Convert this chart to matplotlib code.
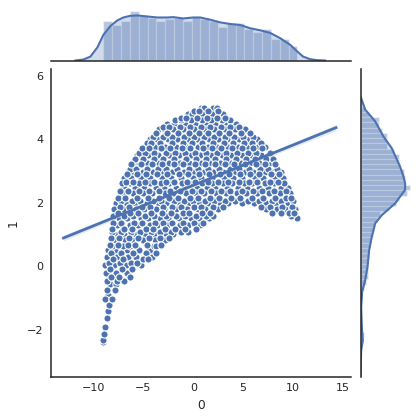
import matplotlib
matplotlib.use("Agg")
import matplotlib.pyplot as plt

BLUE = "#4c72b0"
DARK = "#262626"

# scatter values, one y level and the x values found at that level
row_y = [-2.40, -2.32, -2.15, -1.93, -1.65, -1.42, -1.23, -1.04, -0.90, -0.76, -0.57, -0.47, -0.34,
         -0.22, -0.09, 0.03, 0.11, 0.23, 0.28, 0.42, 0.51, 0.63, 0.68, 0.83, 0.88, 1.02, 1.08,
         1.17, 1.31, 1.36, 1.52, 1.58, 1.67, 1.81, 1.86, 1.99, 2.07, 2.16, 2.31, 2.37, 2.48, 2.62,
         2.66, 2.79, 2.91, 2.96, 3.08, 3.21, 3.27, 3.38, 3.51, 3.57, 3.72, 3.77, 3.89, 4.02, 4.07,
         4.19, 4.33, 4.38, 4.49, 4.61, 4.68, 4.79, 4.88, 5.0]
row_x = [
    [-9.05], [-9.02], [-8.98], [-8.8], [-8.6], [-8.5], [-8.4], [-8.8, -8.1], [-8.5], [-8.6, -7.8],
    [-8.35, -7.7], [-8.6, -7.6, -6.9], [-8.2, -7.4, -6.3],
    [-8.7, -7.7, -6.6], [-8.3, -7.1, -6.1], [-8.8, -7.9, -6.7, -5.2], [-8.4, -7.3, -6.2, -5.6],
    [-8.0, -7.0, -5.0, -4.5], [-8.6, -7.6, -6.5, -5.7, -4.1], [-8.2, -7.2, -6.0, -4.7, -3.7],
    [-8.55, -7.8, -6.6, -5.4, -4.3], [-8.1, -7.0, -6.3, -3.9, -3.7], [-8.3, -7.5, -6.5, -5.8, -4.6, -3.2],
    [-7.9, -6.8, -6.1, -5.0, -3.8, -2.8], [-8.25, -7.4, -6.4, -5.5, -4.4, -3.3, -2.4],
    [-7.8, -6.9, -5.8, -4.8, -3.9, -2.7, -2.0], [-8.15, -7.2, -6.2, -5.3, -4.2, -3.3, -2.2, -1.2, -0.5],
    [-8.1, -6.9, -6.1, -4.7, -4.0, -2.8, -1.8, -0.8, 0.3],
    [-7.6, -6.3, -5.5, -4.3, -3.6, -2.6, -1.3, -0.5, 0.7],
    [-8.0, -7.2, -5.9, -5.1, -3.8, -3.0, -2.1, -1.0, 0.1, 1.0],
    [-7.4, -6.6, -5.2, -4.5, -3.3, -2.5, -1.4, -0.2, 0.6, 1.6, 10.35],
    [-8.0, -6.9, -6.0, -4.8, -3.9, -2.7, -1.7, -0.8, 0.3, 1.3, 2.0, 9.8],
    [-7.5, -6.3, -5.5, -4.2, -3.1, -2.2, -1.0, -0.4, 0.9, 1.7, 7.9, 8.8, 9.6, 10.1],
    [-7.9, -7.0, -5.7, -4.9, -3.7, -2.9, -1.7, -0.6, 0.5, 1.2, 2.5, 7.3, 8.4, 9.2, 10.2],
    [-7.3, -6.4, -5.1, -4.3, -3.0, -2.1, -1.2, 0.1, 0.8, 2.0, 3.0, 6.8, 7.7, 8.9, 9.9],
    [-7.7, -6.7, -5.8, -4.6, -3.5, -2.7, -1.4, -0.4, 0.6, 1.5, 2.7, 3.5, 4.9, 6.1, 7.3, 8.3, 9.5],
    [-7.2, -6.1, -5.3, -4.0, -3.2, -1.9, -0.9, 0.0, 1.2, 2.1, 3.2, 4.2, 5.5, 6.6, 7.9, 8.8, 10.0],
    [-7.5, -6.8, -5.6, -4.5, -3.4, -2.4, -1.5, -0.3, 0.5, 1.7, 2.6, 3.8, 4.7, 5.9, 7.0, 8.2, 9.3, 9.8],
    [-6.9, -6.0, -5.0, -4.1, -2.8, -2.0, -0.7, 0.3, 1.1, 2.3, 3.3, 4.4, 5.3, 6.4, 7.6, 8.7, 9.7],
    [-7.3, -6.5, -5.4, -4.4, -3.4, -2.3, -1.3, -0.1, 0.8, 1.8, 2.8, 3.7, 4.9, 6.0, 6.9, 8.1, 9.3],
    [-6.9, -5.8, -4.9, -3.7, -2.9, -1.7, -0.9, 0.4, 1.4, 2.2, 3.4, 4.5, 5.4, 6.6, 7.5, 8.8, 9.5],
    [-7.1, -6.3, -5.4, -4.3, -3.2, -2.4, -1.1, -0.3, 0.9, 1.9, 3.0, 3.9, 5.1, 5.9, 7.2, 8.1, 9.1],
    [-6.7, -6.0, -4.8, -3.9, -2.7, -1.9, -0.6, 0.2, 1.5, 2.5, 3.5, 4.6, 5.6, 6.4, 7.7, 8.5],
    [-6.9, -6.2, -5.2, -4.3, -3.1, -2.2, -1.2, 0.0, 0.8, 1.9, 3.1, 4.0, 4.9, 6.2, 7.0, 8.2, 9.0],
    [-6.6, -5.6, -4.7, -3.6, -2.6, -1.4, -0.5, 0.6, 1.6, 2.7, 3.6, 4.7, 5.7, 6.6, 7.8, 8.6],
    [-6.5, -6.0, -5.0, -4.0, -3.0, -2.1, -0.9, 0.1, 1.1, 2.0, 3.0, 4.2, 5.2, 6.0, 7.2, 8.0, 8.75],
    [-6.3, -5.7, -4.6, -3.5, -2.7, -1.6, -0.4, 0.5, 1.5, 2.6, 3.7, 4.6, 5.6, 6.7, 7.5, 8.4],
    [-6.2, -5.2, -4.1, -3.1, -1.9, -1.0, 0.2, 1.2, 2.2, 3.2, 4.1, 5.2, 6.3, 7.2, 8.2],
    [-5.9, -5.4, -4.6, -3.4, -2.4, -1.3, -0.4, 0.8, 1.7, 2.7, 3.8, 4.8, 5.7, 6.6, 7.7],
    [-5.8, -5.0, -3.9, -3.0, -1.9, -0.7, 0.3, 1.3, 2.2, 3.3, 4.3, 5.3, 6.2, 7.3, 8.0],
    [-5.6, -4.5, -3.5, -2.4, -1.4, -0.2, 0.7, 1.8, 2.9, 3.8, 4.9, 5.8, 6.8, 7.5],
    [-5.4, -4.8, -3.9, -2.7, -1.8, -0.8, 0.2, 1.3, 2.4, 3.3, 4.4, 5.5, 6.3, 7.7],
    [-5.1, -4.4, -3.2, -2.3, -1.1, -0.3, 1.0, 1.9, 2.8, 3.9, 4.9, 6.0, 6.9],
    [-4.9, -3.8, -2.8, -1.7, -0.6, 0.5, 1.5, 2.4, 3.5, 4.5, 5.4, 6.5, 7.2],
    [-4.6, -4.2, -3.3, -2.1, -1.0, -0.1, 0.9, 2.0, 3.1, 4.0, 5.1, 5.9, 6.8],
    [-4.3, -3.6, -2.5, -1.6, -0.5, 0.4, 1.6, 2.5, 3.4, 4.6, 5.6, 6.4],
    [-4.0, -3.0, -2.1, -0.9, 0.1, 1.1, 2.1, 3.2, 4.1, 5.0, 6.0],
    [-3.7, -2.6, -1.5, -0.4, 0.6, 1.5, 2.6, 3.6, 4.8, 5.7],
    [-3.4, -2.9, -2.0, -1.0, 0.1, 1.2, 2.1, 3.2, 4.2, 5.2],
    [-3.0, -2.4, -1.3, -0.3, 0.8, 1.7, 2.8, 3.7, 4.6],
    [-2.6, -1.9, -0.8, 0.2, 1.3, 2.2, 3.3, 4.3],
    [-1.8, -1.2, -0.2, 0.9, 1.8, 2.9, 3.7],
    [-1.2, -0.7, 0.4, 1.4, 2.4, 3.2],
    [-0.5, -0.1, 0.9, 1.9, 3.0],
    [0.1, 0.6, 1.5, 2.5],
    [0.8, 1.1, 2.0, 2.4],
]

# regression line and its band
line_x = [-13.0, 0.7, 14.3]
line_y = [0.89, 2.64, 4.37]
band_low = [0.80, 2.61, 4.27]
band_high = [0.98, 2.67, 4.47]

# marginal histogram of column 0
top_edges = [-9.0, -8.12, -7.23, -6.35, -5.47, -4.58, -3.70, -2.82, -1.93, -1.05, -0.17, 0.72, 1.60,
             2.48, 3.37, 4.25, 5.13, 6.02, 6.90, 7.78, 8.67, 9.55, 10.43]
top_heights = [0.057, 0.050, 0.057, 0.070, 0.063, 0.061, 0.057, 0.059, 0.061, 0.056, 0.062,
               0.059, 0.056, 0.048, 0.053, 0.053, 0.045, 0.041, 0.045, 0.030, 0.031, 0.020]
top_kde_x = [-11.8, -11.0, -10.3, -9.6, -9.0, -8.3, -7.6, -7.0, -6.3, -5.6, -4.6, -3.6, -2.6, -2.0, -1.0,
             0.0, 0.7, 1.7, 2.7, 3.7, 4.7, 5.7, 6.7, 7.7, 8.7, 9.7, 10.4, 11.0, 11.7, 12.4, 13.2]
top_kde_y = [0.0, 0.0014, 0.0056, 0.0188, 0.0366, 0.0492, 0.0572, 0.0614, 0.0638, 0.0643, 0.0628,
             0.0614, 0.0614, 0.0619, 0.0600, 0.0614, 0.0614, 0.0582, 0.0544, 0.0521, 0.0507, 0.0460,
             0.0431, 0.0394, 0.0319, 0.0225, 0.0131, 0.0056, 0.0019, 0.0005, 0.0]

# marginal histogram of column 1, from the highest bin down
right_top = 5.03
right_step = 0.165
right_widths = [0.037, 0.062, 0.142, 0.142, 0.162, 0.200, 0.200, 0.200, 0.250, 0.292, 0.287, 0.300,
                0.325, 0.337, 0.337, 0.375, 0.350, 0.287, 0.270, 0.212, 0.145, 0.125, 0.112, 0.100,
                0.095, 0.082, 0.070, 0.062, 0.067, 0.060, 0.055, 0.060, 0.055, 0.045, 0.030, 0.012,
                0.005, 0.007, 0.007, 0.007, 0.007, 0.010, 0.010, 0.025, 0.020]
right_kde_y = [5.36, 4.94, 4.57, 4.09, 3.72, 3.14, 2.83, 2.62, 2.41, 1.98, 1.61, 1.35, 0.93, 0.51,
               -0.02, -0.44, -0.81, -1.29, -1.92, -2.34, -2.66, -3.5]
right_kde_x = [0.0, 0.035, 0.11, 0.1725, 0.235, 0.2975, 0.3225, 0.335, 0.335, 0.26, 0.16, 0.11, 0.085,
               0.065, 0.0525, 0.035, 0.0125, 0.005, 0.01, 0.0175, 0.005, 0.0]

x_ticks = [-10, -5, 0, 5, 10, 15]
y_ticks = [-2, 0, 2, 4, 6]

W, H = 419.0, 420.0
fig = plt.figure(figsize=(W / 100, H / 100), dpi=100)

def place(left, top, right, bottom):
    return fig.add_axes([left / W, 1 - bottom / H, (right - left) / W, (bottom - top) / H])

ax = place(50.5, 69, 351, 376.5)
ax_top = place(50.5, 9, 351, 60.5)
ax_right = place(360.5, 69, 411.5, 376.5)

# joint panel, rows drawn out of order so the white rims do not stack one way
xs = []
ys = []
for start in [0, 3, 1, 4, 2]:
    for y, row in zip(row_y[start::5], row_x[start::5]):
        for x in row:
            xs.append(x)
            ys.append(y)
ax.scatter(xs, ys, s=27, color=BLUE, edgecolor="white", linewidth=0.8, zorder=2)
ax.fill_between(line_x, band_low, band_high, color=BLUE, alpha=0.15, linewidth=0, zorder=3)
ax.plot(line_x, line_y, color=BLUE, lw=2, zorder=3)
ax.set_xlim(-14.3, 15.8)
ax.set_ylim(-3.48, 6.22)
ax.set_xticks(x_ticks)
ax.set_yticks(y_ticks)
ax.tick_params(length=0, labelsize=8, labelcolor=DARK, pad=5)
ax.set_xlabel("0", fontsize=8.8, color=DARK, labelpad=4)
ax.set_ylabel("1", fontsize=8.8, color=DARK, labelpad=5)
for side in ["top", "right"]:
    ax.spines[side].set_visible(False)
for side in ["left", "bottom"]:
    ax.spines[side].set_color(DARK)
    ax.spines[side].set_linewidth(1.1)

# top margin
widths = [b - a for a, b in zip(top_edges[:-1], top_edges[1:])]
ax_top.bar(top_edges[:-1], top_heights, width=widths, align="edge", color=BLUE, alpha=0.4,
           edgecolor="white", linewidth=0.9)
ax_top.fill_between(top_kde_x, 0, top_kde_y, color=BLUE, alpha=0.25, linewidth=0)
ax_top.plot(top_kde_x, top_kde_y, color=BLUE, lw=1.5)
ax_top.set_xlim(-14.3, 15.8)
ax_top.set_ylim(0, 0.0735)

# right margin
bottoms = [right_top - (i + 1) * right_step for i in range(len(right_widths))]
ax_right.barh(bottoms, right_widths, height=right_step, align="edge", color=BLUE, alpha=0.4,
              edgecolor="white", linewidth=0.9)
ax_right.fill_betweenx(right_kde_y, 0, right_kde_x, color=BLUE, alpha=0.25, linewidth=0)
ax_right.plot(right_kde_x, right_kde_y, color=BLUE, lw=1.5)
ax_right.set_ylim(-3.48, 6.22)
ax_right.set_xlim(0, 0.383)

for a in [ax_top, ax_right]:
    a.set_xticks([])
    a.set_yticks([])
    a.patch.set_visible(False)
    for side in a.spines:
        a.spines[side].set_visible(False)
ax_top.spines["bottom"].set_visible(True)
ax_top.spines["bottom"].set_color(DARK)
ax_top.spines["bottom"].set_linewidth(1.1)
ax_right.spines["left"].set_visible(True)
ax_right.spines["left"].set_color(DARK)
ax_right.spines["left"].set_linewidth(1.1)

fig.savefig("out.png", dpi=100)
